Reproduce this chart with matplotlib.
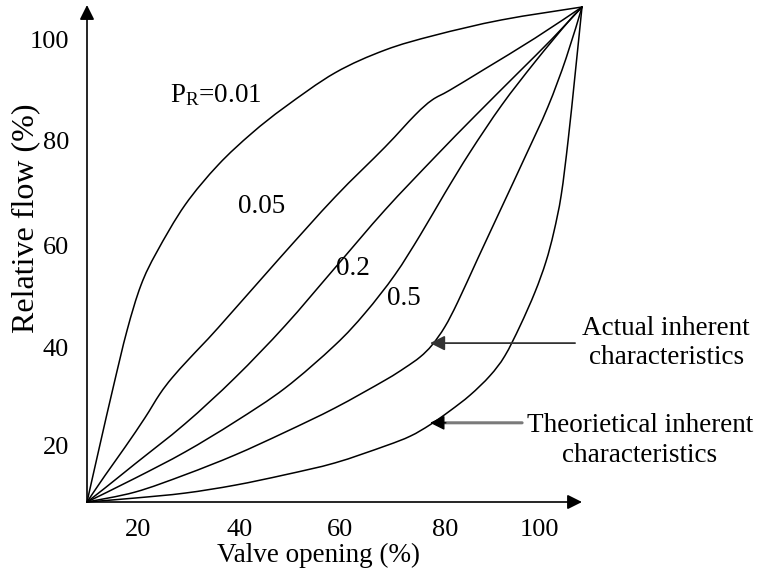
import numpy as np
import matplotlib.pyplot as plt
from matplotlib.path import Path
from matplotlib.patches import PathPatch

plt.rcParams['font.family'] = 'Liberation Serif'
plt.rcParams['mathtext.fontset'] = 'custom'
plt.rcParams['mathtext.rm'] = 'Liberation Serif'
plt.rcParams['mathtext.it'] = 'Liberation Serif:italic'

# valve opening (%) vs relative flow (%) for each pressure ratio P_R
open_001 = [0, 2.6, 5.3, 8.1, 10.9, 14.1, 19.8, 26.5, 33.3, 40.0, 50.1, 60.2, 70.3, 83.8, 100]
flow_001 = [0, 11.5, 23.2, 34.7, 43.8, 50.5, 60.0, 68.1, 74.5, 79.8, 86.7, 91.3, 94.3, 97.4, 100]

open_005 = [0, 3.6, 7.7, 11.7, 14.7, 17.2, 20.8, 26.5, 38.6, 50.1, 60.2, 66.3, 69.7, 73.3, 80.4, 90.5, 100]
flow_005 = [0, 5.3, 11.1, 17.0, 21.8, 25.1, 29.1, 35.2, 48.9, 61.6, 71.7, 78.2, 81.2, 83.2, 87.5, 93.7, 100]

open_02 = [0, 3.6, 9.7, 19.8, 29.9, 40.0, 50.1, 60.2, 70.3, 78.4, 87.1, 93.9, 100]
flow_02 = [0, 2.8, 7.7, 15.8, 25.1, 35.6, 47.3, 59.0, 69.7, 78.0, 86.7, 93.5, 100]

open_05 = [0, 9.7, 19.8, 29.9, 40.0, 50.1, 56.2, 62.2, 67.3, 72.3, 77.4, 83.8, 90.5, 97.2, 100]
flow_05 = [0, 4.8, 10.1, 16.2, 23.0, 31.7, 38.2, 45.9, 53.9, 62.4, 70.7, 80.2, 88.9, 97.0, 100]

# actual inherent characteristic
open_act = [0, 9.7, 19.8, 29.9, 40.0, 50.1, 60.2, 64.2, 67.3, 69.7, 72.3, 74.9, 79.0, 83.8, 88.5, 93.1, 96.8, 100]
flow_act = [0, 2.0, 5.5, 9.5, 14.1, 19.0, 24.6, 27.1, 29.3, 31.7, 35.4, 40.4, 49.3, 59.6, 69.7, 79.8, 89.7, 100]

# theoretical inherent characteristic
open_theo = [0, 9.7, 19.8, 29.9, 40.0, 50.1, 60.2, 65.3, 69.3, 73.3, 77.4, 81.4, 84.4, 87.5, 90.5,
             92.7, 94.3, 95.8, 97.2, 98.6, 100]
flow_theo = [0, 0.8, 1.8, 3.4, 5.5, 7.9, 11.3, 13.3, 15.6, 18.4, 21.6, 25.5, 29.5, 35.6, 42.4,
             48.5, 54.5, 62.0, 73.1, 86.3, 100]

tick_labels = ['20', '40', '60', '80', '100']
xtick_pos = [10.4, 30.9, 51.2, 72.3, 91.3]
ytick_pos = [11.5, 31.3, 51.9, 73.1, 93.5]


def smooth_path(xs, ys):
    # Catmull-Rom through the points, expressed as cubic Bezier segments
    p = np.column_stack([xs, ys]).astype(float)
    ext = np.vstack([p[0], p, p[-1]])
    verts = [p[0]]
    codes = [Path.MOVETO]
    for i in range(len(p) - 1):
        p0, p1, p2, p3 = ext[i], ext[i + 1], ext[i + 2], ext[i + 3]
        verts += [p1 + (p2 - p0) / 6, p2 - (p3 - p1) / 6, p2]
        codes += [Path.CURVE4] * 3
    return Path(verts, codes)


fig = plt.figure(figsize=(7.59, 5.74), dpi=100)
ax = fig.add_axes([87 / 759, 72 / 574, 495 / 759, 495 / 574])
ax.set_xlim(0, 100)
ax.set_ylim(0, 100)
for s in ax.spines.values():
    s.set_visible(False)

curves = [(open_001, flow_001), (open_005, flow_005), (open_02, flow_02),
          (open_05, flow_05), (open_act, flow_act), (open_theo, flow_theo)]
for xs, ys in curves:
    ax.add_patch(PathPatch(smooth_path(xs, ys), fill=False, edgecolor='black',
                           lw=1.1, clip_on=False, capstyle='round'))

# axes drawn as arrows
axis_arrow = dict(arrowstyle='-|>', color='black', lw=1.2, mutation_scale=22,
                  shrinkA=0, shrinkB=0)
ax.annotate('', xy=(100, 0), xytext=(0, 0), arrowprops=axis_arrow, annotation_clip=False)
ax.annotate('', xy=(0, 100.4), xytext=(0, 0), arrowprops=axis_arrow, annotation_clip=False)

ax.set_xticks(xtick_pos, tick_labels)
ax.set_yticks(ytick_pos, tick_labels)
ax.tick_params(axis='both', length=0, labelsize=19)
ax.tick_params(axis='x', pad=12)
ax.tick_params(axis='y', pad=13)

ax.set_xlabel('Valve opening (%)', fontsize=19.5)
ax.xaxis.set_label_coords(0.467, -0.082)
ax.set_ylabel('Relative flow (%)', fontsize=23)
ax.yaxis.set_label_coords(-0.094, 0.574)

# curve labels
ax.text(16.8, 80.8, r'P$_{\mathrm{R}}$=0.01', fontsize=19.5, ha='left', va='baseline')
ax.text(35.2, 58.4, '0.05', fontsize=19.5, ha='center', va='baseline')
ax.text(53.8, 45.9, '0.2', fontsize=19.5, ha='center', va='baseline')
ax.text(64.0, 39.8, '0.5', fontsize=19.5, ha='center', va='baseline')

# pointers to the inherent characteristics
ax.annotate('', xy=(69.3, 32.1), xytext=(98.6, 32.1), annotation_clip=False,
            arrowprops=dict(arrowstyle='-|>', color='#333333', lw=1.3,
                            mutation_scale=22, shrinkA=0, shrinkB=0))
ax.text(117.0, 32.1, 'Actual inherent\ncharacteristics', fontsize=19.5,
        ha='center', va='center', multialignment='center', linespacing=1.25)

ax.annotate('', xy=(70.5, 16.0), xytext=(87.9, 16.0), annotation_clip=False,
            arrowprops=dict(arrowstyle='-', color='#7a7a7a', lw=2.2,
                            shrinkA=0, shrinkB=0))
ax.annotate('', xy=(69.3, 16.0), xytext=(72.5, 16.0), annotation_clip=False,
            arrowprops=dict(arrowstyle='-|>', color='black', lw=1.0,
                            mutation_scale=22, shrinkA=0, shrinkB=0))
ax.text(111.7, 12.5, 'Theorietical inherent\ncharacteristics', fontsize=19.5,
        ha='center', va='center', multialignment='center', linespacing=1.25)

fig.savefig('out.png', dpi=100)
